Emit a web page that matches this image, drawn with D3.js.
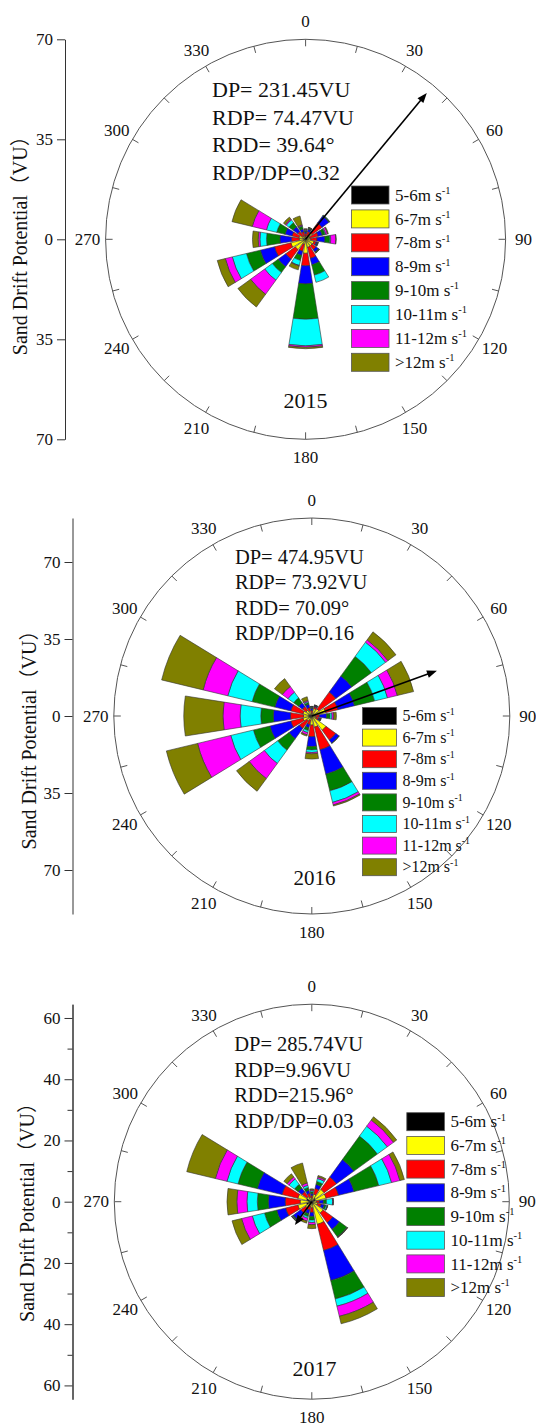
<!DOCTYPE html>
<html>
<head>
<meta charset="utf-8">
<script src="https://cdn.jsdelivr.net/npm/d3@7"></script>
<style>
  body { margin: 0; background: #fff; }
  svg { display: block; background: #fff; }
  text { font-family: "Liberation Serif", "Times New Roman", "Noto Sans CJK SC", serif; fill: #111; }
</style>
</head>
<body>
<svg id="chart" width="536" height="1428"></svg>
<script>
const directions = [0, 22.5, 45, 67.5, 90, 112.5, 135, 157.5, 180, 202.5, 225, 247.5, 270, 292.5, 315, 337.5];
const speedClasses = ["5-6", "6-7", "7-8", "8-9", "9-10", "10-11", "11-12", ">12"];
const classColors = ["#000000", "#ffff00", "#ff0000", "#0000ff", "#008000", "#00ffff", "#ff00ff", "#808000"];

// drift potential (VU) per direction, one column per speed class
const dp2015 = [
  [0.3, 0.7, 1.0, 0.6, 0.4, 0.2, 0.3, 0.2],
  [0.3, 1.0, 1.5, 0.8, 0.4, 0.1, 0.1, 0.1],
  [0.5, 2.3, 4.3, 3.0, 0.3, 0.1, 0, 0],
  [0.3, 1.2, 3.0, 1.5, 1.0, 0.3, 0.6, 0.3],
  [0.4, 1.4, 2.2, 2.8, 1.7, 0.3, 1.8, 0.1],
  [0.3, 2.7, 0.8, 0.4, 0.2, 0.1, 0, 0.1],
  [0.3, 2.5, 1.7, 1.0, 0.3, 0.1, 0, 0.1],
  [0.4, 2.5, 4.0, 2.3, 3.7, 2.6, 0, 0],
  [0.6, 4.3, 4.4, 6.3, 12.4, 9.3, 0.5, 0.5],
  [0.3, 1.5, 2.5, 1.5, 1.8, 1.8, 0.2, 1.4],
  [0.5, 4.0, 4.1, 3.3, 2.5, 3.3, 6.1, 5.5],
  [0.9, 4.4, 5.9, 5.1, 5.0, 5.1, 2.5, 2.9],
  [0.6, 1.6, 2.7, 4.1, 4.7, 2.3, 0.6, 2.0],
  [0.9, 1.5, 2.5, 2.5, 3.0, 3.7, 5.1, 7.3],
  [0.4, 1.0, 2.0, 2.0, 1.8, 1.2, 0.4, 0.8],
  [0.4, 0.8, 1.5, 1.0, 1.0, 0.2, 0.3, 3.2]
];
const dp2016 = [
  [0.4, 0.8, 1.3, 1.0, 0.5, 0.2, 0.1, 0.1],
  [0.5, 3.0, 0.8, 0.4, 0.2, 0.1, 0.1, 0.1],
  [1.0, 3.0, 9.5, 9.0, 11.0, 8.0, 1.3, 4.5],
  [1.2, 5.3, 5.7, 7.8, 9.4, 6.0, 4.6, 7.6],
  [0.4, 1.1, 2.0, 3.3, 1.5, 0.9, 0.8, 1.2],
  [0.4, 1.6, 1.2, 0.6, 0.3, 0.1, 0.1, 0.1],
  [0.5, 7.5, 5.5, 1.8, 0.2, 0, 0, 0],
  [0.8, 4.4, 10.6, 11.4, 7.8, 5.4, 1.2, 0.5],
  [0.8, 3.3, 5.3, 4.5, 1.5, 1.2, 0.6, 2.4],
  [0.8, 1.2, 2.0, 1.5, 1.3, 1.0, 1.0, 0.6],
  [1.2, 1.6, 4.2, 5.8, 6.4, 7.5, 8.5, 7.1],
  [1.6, 2.5, 5.7, 9.8, 7.7, 10.6, 15.5, 14.6],
  [1.5, 2.3, 5.9, 7.8, 5.7, 9.4, 7.8, 17.8],
  [1.6, 2.5, 5.7, 7.5, 10.6, 11.4, 11.5, 19.4],
  [1.0, 2.2, 2.1, 2.2, 2.7, 3.2, 3.2, 4.4],
  [0.5, 2.0, 1.5, 1.5, 0.8, 0.5, 0.5, 1.7]
];
const dp2017 = [
  [0.4, 0.8, 0.8, 0.6, 0.6, 0.4, 0.3, 0.3],
  [0.5, 2.0, 2.0, 1.3, 1.0, 1.0, 0.5, 0.5],
  [1.5, 3.5, 5.0, 7.0, 9.5, 4.0, 2.5, 1.3],
  [1.2, 3.6, 4.2, 5.2, 8.3, 4.3, 2.8, 1.5],
  [0.5, 1.0, 1.0, 1.3, 1.0, 2.0, 0.2, 0.1],
  [0.5, 1.5, 1.2, 1.0, 0.6, 0.4, 0.1, 0.1],
  [0.8, 3.8, 3.9, 2.7, 3.0, 0.1, 0.1, 0.1],
  [1.0, 6.6, 8.8, 10.1, 6.2, 2.4, 3.4, 2.5],
  [0.5, 1.5, 1.5, 1.3, 1.2, 0.8, 0.7, 1.3],
  [0.5, 1.0, 1.3, 1.2, 1.0, 0.6, 0.9, 0.7],
  [0.8, 1.7, 2.0, 3.0, 0.3, 0.2, 0.1, 0.1],
  [1.8, 2.9, 4.1, 3.0, 4.1, 4.1, 3.6, 3.2],
  [1.1, 2.7, 4.9, 5.5, 3.6, 3.4, 3.3, 3.2],
  [1.8, 2.9, 5.3, 8.3, 6.5, 3.7, 3.9, 9.6],
  [0.6, 1.4, 2.0, 1.5, 1.5, 2.2, 0.8, 1.3],
  [0.5, 1.0, 1.3, 1.0, 1.0, 0.7, 0.8, 6.7]
];

const years = ["2015", "2016", "2017"];
const stats2015 = ["DP= 231.45VU", "RDP= 74.47VU", "RDD= 39.64°", "RDP/DP=0.32"];
const stats2016 = ["DP= 474.95VU", "RDP= 73.92VU", "RDD= 70.09°", "RDP/DP=0.16"];
const stats2017 = ["DP= 285.74VU", "RDP=9.96VU", "RDD=215.96°", "RDP/DP=0.03"];
const rdd = [39.64, 70.09, 215.96];
const arrowLength = [66.5, 60.5, 9.4];   // drawn length in VU
const radialMax = [70, 90, 64.5];
const yTicks2015 = [70, 35, 0, -35, -70];
const yTicks2016 = [70, 35, 0, -35, -70];
const yTicks2017 = [60, 40, 20, 0, -20, -40, -60];
const yMinor2017 = [50, 30, 10, -10, -30, -50];
const angleTicks = [0, 15, 30, 45, 60, 75, 90, 105, 120, 135, 150, 165, 180, 195, 210, 225, 240, 255, 270, 285, 300, 315, 330, 345];
const angleLabels = [0, 30, 60, 90, 120, 150, 180, 210, 240, 270, 300, 330];

const panels = [
  { data: dp2015, stats: stats2015, yTicks: yTicks2015, yMinor: [], cx: 305.6, cy: 239.3, R: 200, axisX: 65,
    titleX: 19.5, titleY: 240.7, statX: 212, statY: 96.8, statStep: 27.8, statSize: 22,
    yearY: 407.5, yearX: 305.6, yearSize: 22,
    legX: 351.5, legY: 186, legW: 37.5, legH: 18, legStep: 23.9, legSize: 17 },
  { data: dp2016, stats: stats2016, yTicks: yTicks2016, yMinor: [], cx: 311.8, cy: 716, R: 198, axisX: 72.5,
    titleX: 29, titleY: 735, statX: 234.9, statY: 563.5, statStep: 25.5, statSize: 20.5,
    yearY: 885.3, yearX: 314.5, yearSize: 21,
    legX: 362.4, legY: 707.5, legW: 34, legH: 17, legStep: 21.6, legSize: 16 },
  { data: dp2017, stats: stats2017, yTicks: yTicks2017, yMinor: yMinor2017, cx: 311.8, cy: 1201.7, R: 197.5, axisX: 72.5,
    titleX: 27, titleY: 1207.5, statX: 234.2, statY: 1051, statStep: 25.6, statSize: 20.5,
    yearY: 1375.8, yearX: 314.5, yearSize: 22,
    legX: 406.8, legY: 1112.7, legW: 37.6, legH: 18, legStep: 23.7, legSize: 17 }
];

const svg = d3.select("#chart");
const toRad = Math.PI / 180;
const halfWidth = 9;

function drawPanel(p, k) {
  const g = svg.append("g");
  const r = d3.scaleLinear().domain([0, radialMax[k]]).range([0, p.R]);

  // left axis
  const y = d3.scaleLinear().domain([radialMax[k], -radialMax[k]]).range([p.cy - p.R, p.cy + p.R]);
  const ax = g.append("g")
      .attr("transform", `translate(${p.axisX},0)`)
      .call(d3.axisLeft(y).tickValues(p.yTicks).tickFormat(d => Math.abs(d))
              .tickSize(8).tickSizeOuter(0).tickPadding(4));
  if (p.yMinor.length) {
    g.append("g")
      .attr("transform", `translate(${p.axisX},0)`)
      .call(d3.axisLeft(y).tickValues(p.yMinor).tickFormat("").tickSize(5).tickSizeOuter(0));
  }
  g.selectAll(".domain, .tick line").attr("stroke", "#333").attr("stroke-width", 1);
  ax.selectAll("text").attr("font-size", 17).attr("font-family", null);

  g.append("text")
      .attr("transform", `translate(${p.titleX},${p.titleY}) rotate(-90)`)
      .attr("text-anchor", "middle")
      .attr("dominant-baseline", "central")
      .attr("font-size", 20)
      .text("Sand Drift Potential（VU）");

  const c = g.append("g").attr("transform", `translate(${p.cx},${p.cy})`);

  c.append("circle").attr("r", p.R).attr("fill", "none").attr("stroke", "#555").attr("stroke-width", 1);
  c.selectAll(".atick").data(angleTicks).join("line")
      .attr("x1", d => p.R * Math.sin(d * toRad)).attr("y1", d => -p.R * Math.cos(d * toRad))
      .attr("x2", d => (p.R - 7) * Math.sin(d * toRad)).attr("y2", d => -(p.R - 7) * Math.cos(d * toRad))
      .attr("stroke", "#555");
  c.selectAll(".alabel").data(angleLabels).join("text")
      .attr("x", d => (p.R + 18) * Math.sin(d * toRad))
      .attr("y", d => -(p.R + 18) * Math.cos(d * toRad))
      .attr("text-anchor", "middle")
      .attr("dominant-baseline", "central")
      .attr("font-size", 17)
      .text(d => d);

  // stacked sectors
  const rows = p.data.map((vals, i) => {
    const o = { dir: directions[i] };
    speedClasses.forEach((s, j) => o[s] = vals[j]);
    return o;
  });
  const series = d3.stack().keys(speedClasses)(rows);
  const arc = d3.arc()
      .innerRadius(d => r(d[0]))
      .outerRadius(d => r(d[1]))
      .startAngle(d => (d.data.dir - halfWidth) * toRad)
      .endAngle(d => (d.data.dir + halfWidth) * toRad);

  c.selectAll(".layer").data(series).join("g")
      .attr("fill", (d, i) => classColors[i])
    .selectAll("path").data(d => d.filter(s => s[1] - s[0] > 0)).join("path")
      .attr("d", arc)
      .attr("stroke", "#333")
      .attr("stroke-width", 0.6);

  // resultant drift direction
  const a = rdd[k] * toRad, len = r(arrowLength[k]);
  const tx = len * Math.sin(a), ty = -len * Math.cos(a);
  const ux = Math.sin(a), uy = -Math.cos(a);
  c.append("line").attr("x1", 0).attr("y1", 0)
      .attr("x2", tx - ux * 6).attr("y2", ty - uy * 6)
      .attr("stroke", "#000").attr("stroke-width", 1.6);
  const hl = 10, hw = 3.8;
  c.append("path")
      .attr("d", `M${tx},${ty}L${tx - ux * hl - uy * hw},${ty - uy * hl + ux * hw}L${tx - ux * hl + uy * hw},${ty - uy * hl - ux * hw}Z`)
      .attr("fill", "#000");

  // stats block
  g.selectAll(".stat").data(p.stats).join("text")
      .attr("x", p.statX)
      .attr("y", (d, i) => p.statY + i * p.statStep)
      .attr("font-size", p.statSize)
      .text(d => d);

  g.append("text")
      .attr("x", p.yearX).attr("y", p.yearY)
      .attr("text-anchor", "middle")
      .attr("font-size", p.yearSize)
      .text(years[k]);

  // legend
  const leg = g.selectAll(".leg").data(speedClasses).join("g")
      .attr("transform", (d, i) => `translate(${p.legX},${p.legY + i * p.legStep})`);
  leg.append("rect")
      .attr("width", p.legW).attr("height", p.legH)
      .attr("fill", (d, i) => classColors[i])
      .attr("stroke", "#555").attr("stroke-width", 0.8);
  const lt = leg.append("text")
      .attr("x", p.legW + 6)
      .attr("y", p.legH / 2 + p.legSize * 0.33)
      .attr("font-size", p.legSize);
  lt.append("tspan").text(d => d + "m s");
  lt.append("tspan").attr("dy", -p.legSize * 0.4).attr("font-size", p.legSize * 0.62).text("-1");
}

panels.forEach(drawPanel);
</script>
</body>
</html>
